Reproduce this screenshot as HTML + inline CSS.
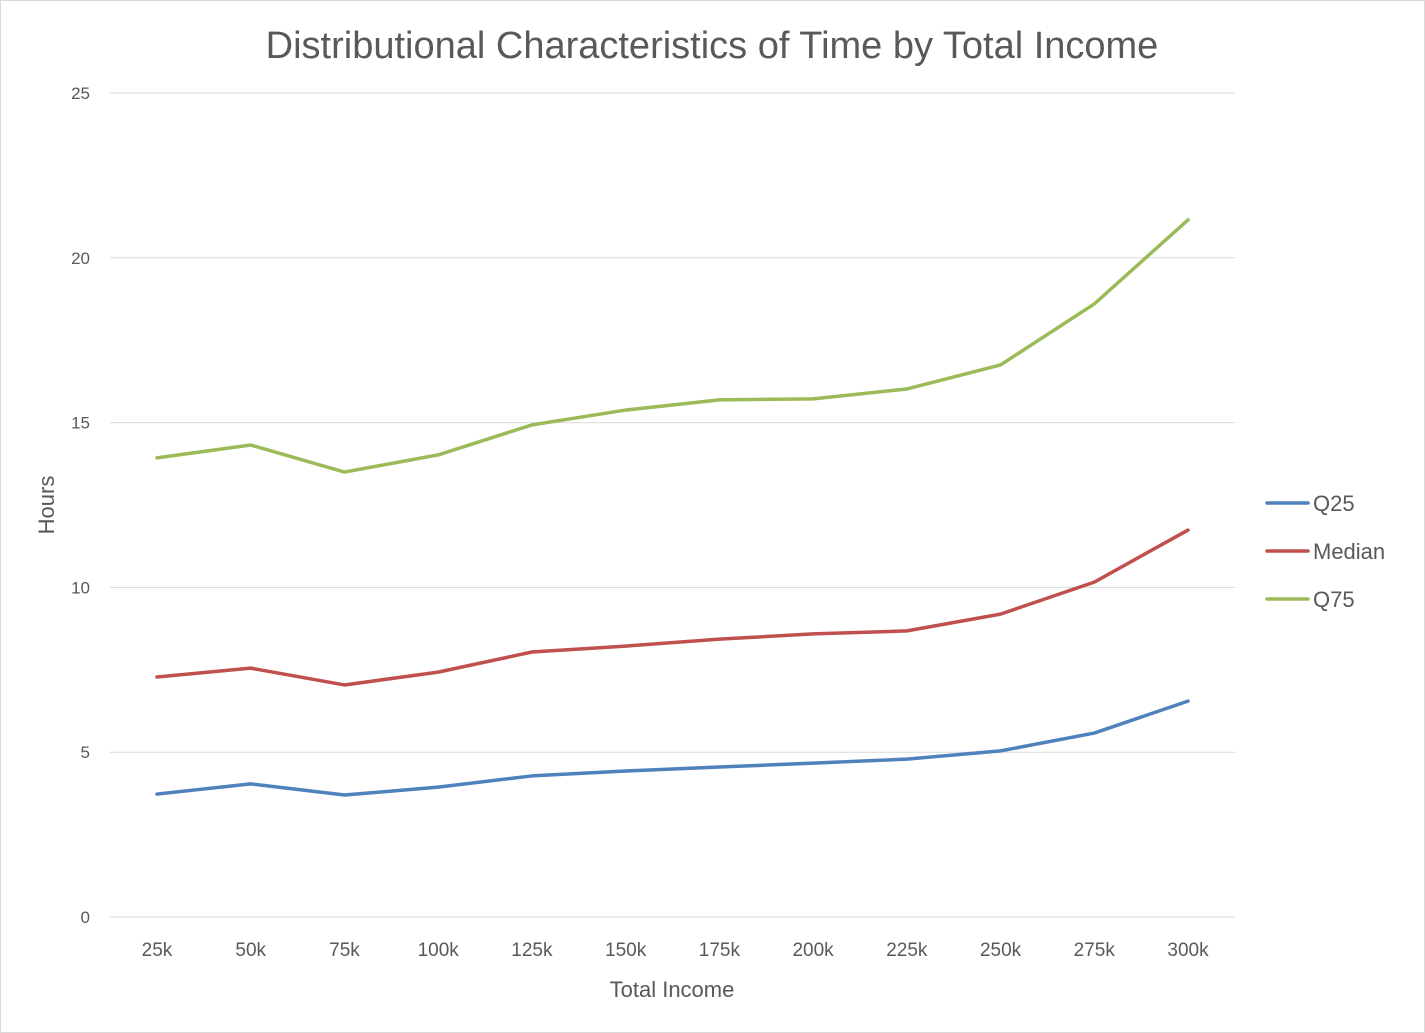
<!DOCTYPE html>
<html><head><meta charset="utf-8"><style>
html,body{margin:0;padding:0;background:#fff}
svg{display:block}
text{font-family:"Liberation Sans",sans-serif;fill:#595959}
</style></head><body>
<svg id="chart" width="1425" height="1033" viewBox="0 0 1425 1033">
<rect x="0.5" y="0.5" width="1424" height="1032" fill="#fff" stroke="#d9d9d9"/>
<text x="712" y="58" text-anchor="middle" font-size="38">Distributional Characteristics of Time by Total Income</text>
<g id="grid"></g><g id="yticks"></g><g id="xticks"></g><g id="series"></g>
<text transform="translate(54,505) rotate(-90)" text-anchor="middle" font-size="22">Hours</text>
<text x="672" y="997" text-anchor="middle" font-size="22">Total Income</text>
<g id="legend"></g>
</svg>
<script>
const categories=["25k","50k","75k","100k","125k","150k","175k","200k","225k","250k","275k","300k"];
const q25=[3.73,4.04,3.70,3.94,4.28,4.43,4.55,4.67,4.79,5.04,5.58,6.55];
const median=[7.28,7.55,7.04,7.43,8.04,8.22,8.43,8.59,8.68,9.19,10.16,11.74];
const q75=[13.93,14.32,13.50,14.02,14.93,15.38,15.69,15.72,16.02,16.75,18.60,21.15];
const yTicks=[0,5,10,15,20,25];
const seriesNames=["Q25","Median","Q75"];
const seriesColors=["#4F81BD","#C0504D","#9BBB59"];

const NS="http://www.w3.org/2000/svg";
const y=v=>917-(v/25)*824;
const x=i=>157+i*(1188-157)/(categories.length-1);
function mk(tag,attrs,parent){const e=document.createElementNS(NS,tag);for(const k in attrs)e.setAttribute(k,attrs[k]);parent.appendChild(e);return e;}
const grid=document.getElementById('grid'),yt=document.getElementById('yticks'),xt=document.getElementById('xticks'),sg=document.getElementById('series'),lg=document.getElementById('legend');
yTicks.forEach(t=>{
  const l=mk('line',{x1:110,x2:1235,y1:y(t),y2:y(t),stroke:'#d9d9d9','stroke-width':1},grid);
  
  
  const tx=mk('text',{x:90,y:y(t)+6,'text-anchor':'end','font-size':17},yt);
  tx.textContent=t;
  
  
});
categories.forEach((c,i)=>{
  const tx=mk('text',{x:x(i),y:956,'text-anchor':'middle','font-size':19},xt);
  tx.textContent=c;
  
  
});
[q25,median,q75].forEach((d,s)=>{
  const p=mk('polyline',{points:d.map((v,i)=>x(i)+','+y(v)).join(' '),fill:'none',stroke:seriesColors[s],'stroke-width':3.5,'stroke-linejoin':'round','stroke-linecap':'round'},sg);
  
  
  const ly=503+s*48;
  const ll=mk('line',{x1:1267,x2:1308,y1:ly,y2:ly,stroke:seriesColors[s],'stroke-width':3.5,'stroke-linecap':'round'},lg);
  
  
  const lt=mk('text',{x:1313,y:ly+8,'font-size':22},lg);
  lt.textContent=seriesNames[s];
  
  
});
</script>
</body></html>
